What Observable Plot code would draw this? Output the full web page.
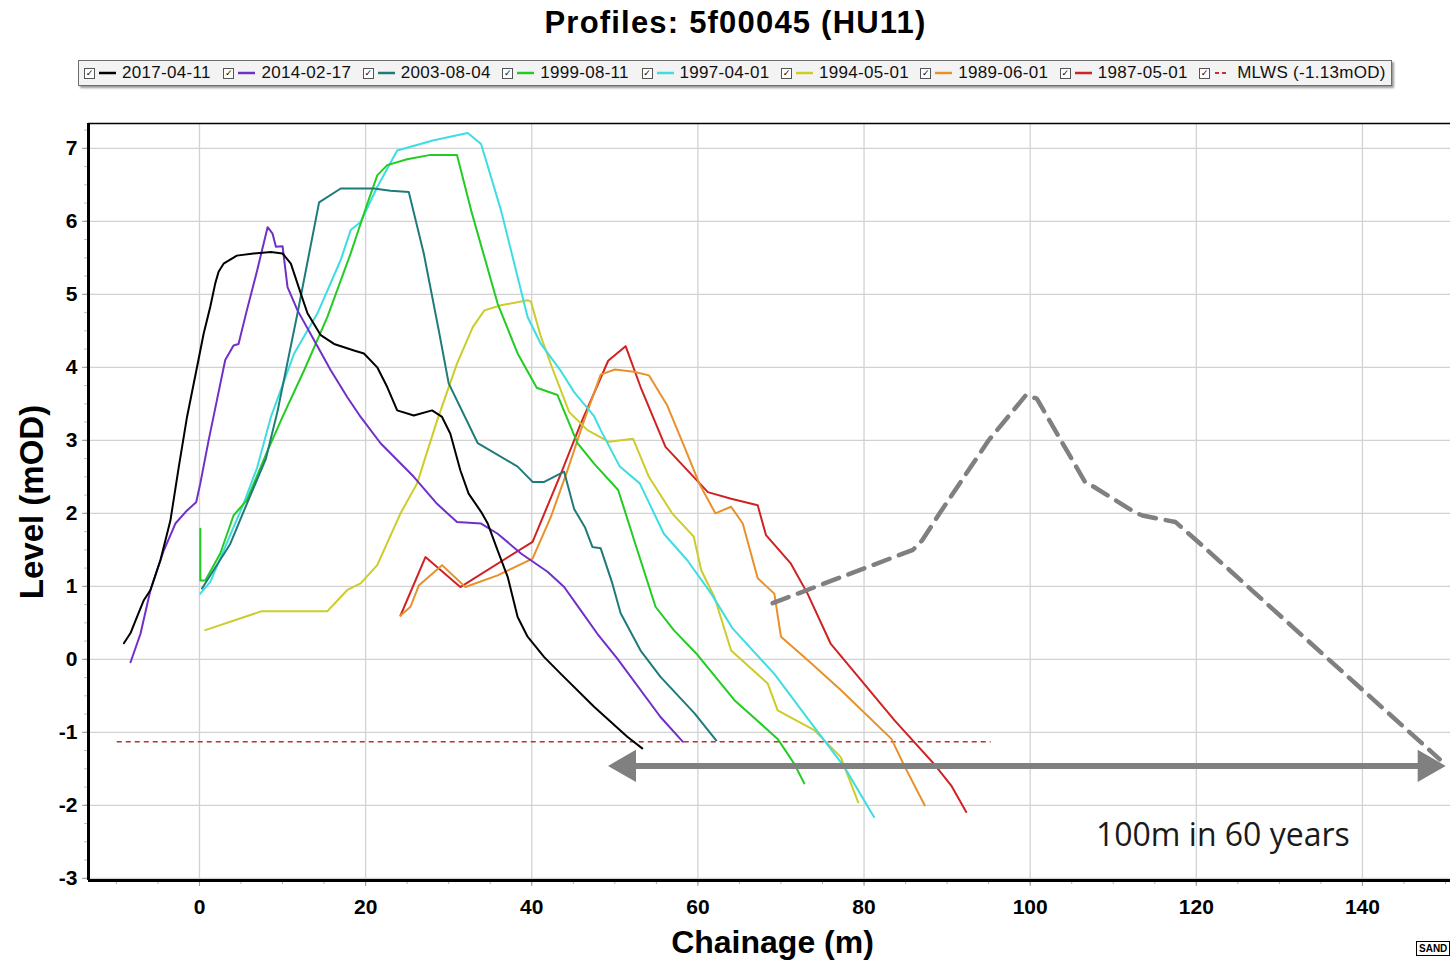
<!DOCTYPE html>
<html>
<head>
<meta charset="utf-8">
<script src="https://cdn.jsdelivr.net/npm/d3@7"></script>
<script src="https://cdn.jsdelivr.net/npm/@observablehq/plot@0.6"></script>
<style>
  html, body { margin: 0; padding: 0; background: #fff; }
  body { width: 1450px; height: 960px; overflow: hidden; position: relative; font-family: "Liberation Sans", Arial, sans-serif; color: #000; }
  #header { position: relative; width: 1450px; height: 100px; }
  #title { position: absolute; left: 0; width: 1471px; top: 7px; text-align: center; font-weight: bold; font-size: 31px; line-height: 31px; letter-spacing: 1.2px; }
  #legend { position: absolute; left: 78px; top: 60px; width: 1314px; height: 26px; box-sizing: border-box; border: 1px solid #6e6e6e; box-shadow: 2px 2px 2px #9a9a9a; background: #f3f3f3; padding-left: 5px; display: flex; align-items: center; }
  .item { display: inline-flex; align-items: center; width: 139.4px; flex: none; }
  .cb { width: 9px; height: 9px; border: 1px solid #555; background: #fff; font-size: 9px; line-height: 9px; text-align: center; font-family: "DejaVu Sans", sans-serif; margin-right: 4px; flex: none; }
  .sw { width: 17px; height: 6px; margin-right: 6px; flex: none; display: block; }
  .lb { font-size: 17px; letter-spacing: 0.3px; white-space: nowrap; color: #111; }
  #chart svg { display: block; }
  #sand { position: absolute; left: 1416px; top: 941px; border: 1px solid #000; font: bold 10px "Liberation Sans", Arial, sans-serif; padding: 1px 2px; background: #fff; }
</style>
</head>
<body>
<div id="header">
  <div id="title">Profiles: 5f00045 (HU11)</div>
  <div id="legend"></div>
</div>
<div id="chart"></div>
<div id="sand">SAND</div>
<script>
// ---- data ----
const years = ["2017-04-11", "2014-02-17", "2003-08-04", "1999-08-11", "1997-04-01", "1994-05-01", "1989-06-01", "1987-05-01"];
const colors = ["#000000", "#7030c8", "#1f7a7a", "#22cc22", "#3ddde2", "#cccc2a", "#e8902a", "#d02222"];

const s2017 = [[-9.1,0.22],[-8.3,0.36],[-7.7,0.53],[-6.7,0.81],[-5.9,0.95],[-4.7,1.36],[-3.5,1.9],[-2.5,2.63],[-1.5,3.32],[-0.3,4.0],[0.5,4.46],[1.3,4.83],[1.9,5.15],[2.3,5.31],[2.9,5.42],[4.5,5.53],[6.5,5.56],[8.6,5.58],[10.0,5.56],[11.0,5.42],[12.2,5.01],[13.0,4.74],[14.6,4.44],[16.2,4.32],[18.6,4.23],[19.8,4.19],[21.4,4.0],[22.6,3.73],[23.8,3.41],[25.8,3.34],[28.0,3.41],[29.2,3.32],[30.2,3.09],[31.4,2.59],[32.4,2.27],[33.9,2.02],[34.7,1.86],[35.9,1.49],[37.1,1.13],[38.3,0.58],[39.5,0.31],[41.5,0.03],[43.5,-0.2],[47.5,-0.65],[51.5,-1.06],[53.3,-1.22]];
const s2014 = [[-8.3,-0.04],[-7.1,0.35],[-5.9,0.95],[-4.3,1.49],[-2.9,1.86],[-1.5,2.04],[-0.4,2.15],[0.1,2.41],[1.1,3.0],[2.1,3.55],[3.1,4.1],[4.1,4.3],[4.7,4.32],[5.7,4.78],[6.95,5.33],[8.2,5.92],[8.8,5.83],[9.2,5.65],[10.0,5.66],[10.6,5.1],[11.8,4.78],[13.8,4.37],[15.8,3.96],[17.8,3.59],[19.4,3.32],[21.8,2.96],[25.8,2.5],[28.6,2.13],[31.0,1.88],[33.9,1.86],[35.9,1.72],[38.7,1.45],[41.9,1.2],[43.9,0.99],[45.9,0.67],[47.9,0.35],[50.3,0.01],[55.5,-0.79],[58.2,-1.13]];
const s2003 = [[0.3,0.97],[3.7,1.58],[5.7,2.13],[8.0,2.75],[9.4,3.4],[11.8,4.74],[14.4,6.26],[17.0,6.45],[21.0,6.45],[23.0,6.42],[25.2,6.40],[27.0,5.56],[28.8,4.51],[30.0,3.78],[33.5,2.96],[38.3,2.64],[40.1,2.43],[41.5,2.43],[43.9,2.57],[45.1,2.06],[46.4,1.81],[47.3,1.54],[48.3,1.52],[49.7,1.04],[50.7,0.63],[53.1,0.12],[55.5,-0.24],[59.6,-0.74],[62.2,-1.11]];
const s1999 = [[0.1,1.79],[0.1,1.08],[0.7,1.08],[2.5,1.45],[4.1,1.97],[5.7,2.18],[8.2,2.86],[10.0,3.32],[12.6,3.96],[15.4,4.69],[18.2,5.56],[20.2,6.24],[21.4,6.63],[22.6,6.77],[25.0,6.85],[27.8,6.91],[31.0,6.91],[32.7,6.15],[35.9,4.87],[38.3,4.19],[40.6,3.72],[43.1,3.62],[45.5,2.96],[47.5,2.68],[50.4,2.32],[52.5,1.57],[54.9,0.72],[57.1,0.40],[59.8,0.08],[64.4,-0.56],[69.6,-1.09],[71.6,-1.43],[72.8,-1.70]];
const s1997 = [[0.1,0.9],[1.3,1.06],[5.3,2.13],[6.95,2.63],[8.6,3.32],[11.4,4.19],[14.2,4.74],[17.0,5.47],[18.2,5.88],[19.4,5.99],[21.4,6.47],[23.8,6.97],[28.2,7.11],[32.3,7.21],[33.9,7.06],[36.3,6.15],[37.9,5.42],[39.5,4.69],[41.1,4.32],[43.5,3.95],[45.1,3.66],[47.5,3.33],[48.3,3.14],[50.6,2.64],[53.0,2.41],[55.9,1.72],[58.7,1.36],[61.6,0.90],[64.2,0.42],[69.2,-0.20],[74.0,-0.93],[77.6,-1.47],[81.2,-2.16]];
const s1994 = [[0.7,0.40],[7.5,0.66],[15.4,0.66],[17.8,0.95],[19.4,1.04],[21.4,1.29],[24.2,2.0],[26.2,2.41],[28.6,3.27],[31.0,4.05],[32.9,4.55],[34.3,4.78],[36.3,4.85],[39.5,4.92],[39.9,4.9],[41.1,4.42],[42.5,3.98],[44.5,3.39],[46.7,3.14],[49.3,2.98],[52.2,3.02],[54.1,2.50],[56.9,2.0],[59.5,1.68],[60.4,1.22],[62.0,0.85],[64.0,0.12],[68.4,-0.33],[69.6,-0.70],[74.0,-0.97],[77.2,-1.34],[79.3,-1.96]];
const s1989 = [[24.2,0.60],[25.4,0.72],[26.4,1.01],[29.2,1.29],[32.0,0.99],[35.9,1.15],[40.1,1.38],[42.3,1.95],[44.3,2.59],[46.3,3.27],[48.3,3.90],[50.0,3.97],[52.3,3.94],[54.1,3.89],[56.3,3.48],[58.3,2.93],[60.2,2.4],[62.1,2.0],[64.0,2.09],[65.4,1.86],[67.2,1.11],[69.2,0.90],[70.0,0.31],[73.2,-0.01],[77.2,-0.42],[83.3,-1.09],[84.9,-1.47],[87.3,-2.0]];
const s1987 = [[24.2,0.60],[27.2,1.40],[31.4,0.99],[40.1,1.61],[43.5,2.54],[45.9,3.23],[49.2,4.09],[51.3,4.29],[53.1,3.73],[56.1,2.91],[61.2,2.29],[64.0,2.20],[67.2,2.11],[68.2,1.70],[71.2,1.31],[73.2,0.90],[76.0,0.21],[83.7,-0.84],[88.4,-1.43],[90.5,-1.73],[92.3,-2.09]];
const profiles = [s2017, s2014, s2003, s1999, s1997, s1994, s1989, s1987];

const mlwsLabel = "MLWS (-1.13mOD)";
const mlws = [{ y: -1.13, x1: -9.9, x2: 95.3 }];

// hand-drawn projected profile (grey dashed)
const future = [[69.0,0.77],[85.9,1.50],[87.0,1.63],[89.1,2.0],[95.0,3.0],[99.5,3.62],[100.8,3.57],[106.6,2.43],[107.7,2.36],[112.5,2.02],[113.5,1.97],[117.5,1.88],[120.4,1.59],[149.3,-1.37]];
const arrowSpan = [{ x1: 50.1, x2: 149.1, y: -1.46 }];
const notes = [{ x: 123.2, y: -2.42, text: "100m in 60 years" }];

const xDomain = [-13.36, 150.6];
const yDomain = [-3.03, 7.34];
const xMajor = [0, 20, 40, 60, 80, 100, 120, 140];
const yMajor = [-3, -2, -1, 0, 1, 2, 3, 4, 5, 6, 7];
const xMinor = d3.range(-10, 151, 5);
const yMinor = d3.range(-3, 7.3, 0.25);
const xLabel = ["Chainage (m)"];
const yLabel = ["Level (mOD)"];

// ---- legend (HTML) ----
const legend = document.getElementById("legend");
const legendItems = years.map((d, i) => ({ label: d, color: colors[i], dashed: false }))
  .concat([{ label: mlwsLabel, color: "#c83030", dashed: true }]);
const svgNS = "http://www.w3.org/2000/svg";
legendItems.forEach(it => {
  const item = document.createElement("span");
  item.className = "item";
  const cb = document.createElement("span"); cb.className = "cb"; cb.textContent = "✓";
  const sw = document.createElementNS(svgNS, "svg");
  sw.setAttribute("class", "sw"); sw.setAttribute("width", "17"); sw.setAttribute("height", "6");
  const ln = document.createElementNS(svgNS, "line");
  ln.setAttribute("x1", it.dashed ? "1" : "0"); ln.setAttribute("x2", it.dashed ? "15" : "17");
  ln.setAttribute("y1", "3"); ln.setAttribute("y2", "3");
  ln.setAttribute("stroke", it.color); ln.setAttribute("stroke-width", it.dashed ? "2" : "2.5");
  if (it.dashed) ln.setAttribute("stroke-dasharray", "4,3");
  sw.append(ln);
  const lb = document.createElement("span"); lb.className = "lb"; lb.textContent = it.label;
  item.append(cb, sw, lb);
  legend.append(item);
});

// ---- table ----
const rows = [];
for (let i = profiles.length - 1; i >= 0; i--) {
  for (const [x, y] of profiles[i]) rows.push({ date: years[i], x, y });
}
const futureRows = future.map(([x, y]) => ({ x, y }));
const heads = [
  { x: arrowSpan[0].x1, y: arrowSpan[0].y, rot: -90, off: 11 },
  { x: arrowSpan[0].x2, y: arrowSpan[0].y, rot: 90, off: -11 }
];
const fmt = d => String(d);

const chart = Plot.plot({
  width: 1450,
  height: 860,
  marginTop: 23,
  marginBottom: 80,
  marginLeft: 88,
  marginRight: 0,
  style: { fontFamily: "'Liberation Sans', Arial, sans-serif", background: "transparent", overflow: "visible", color: "#000" },
  x: { domain: xDomain, label: null },
  y: { domain: yDomain, label: null },
  color: { domain: years, range: colors },
  marks: [
    Plot.gridX(xMajor, { stroke: "#d2d2d2", strokeOpacity: 1, strokeWidth: 1.3 }),
    Plot.gridY(yMajor, { stroke: "#d2d2d2", strokeOpacity: 1, strokeWidth: 1.3 }),
    Plot.axisX(xMinor, { tickSize: 4, stroke: "#b0b0b0", tickFormat: () => "", label: null }),
    Plot.axisX(xMajor, { tickSize: 6, tickPadding: 13, stroke: "#9a9a9a", fill: "#000", fontSize: 21, fontWeight: "bold", tickFormat: fmt, label: null }),
    Plot.axisY(yMinor, { tickSize: 4, stroke: "#c0c0c0", tickFormat: () => "", label: null }),
    Plot.axisY(yMajor, { tickSize: 6, tickPadding: 5, stroke: "#9a9a9a", fill: "#000", fontSize: 21, fontWeight: "bold", tickFormat: fmt, label: null }),
    Plot.ruleY(mlws, { y: "y", x1: "x1", x2: "x2", stroke: "#b83232", strokeWidth: 1.6, strokeDasharray: "5,4" }),
    Plot.line(rows, { x: "x", y: "y", z: "date", stroke: "date", strokeWidth: 2 }),
    Plot.line(futureRows, { x: "x", y: "y", stroke: "#808080", strokeWidth: 4.5, strokeDasharray: "17,10" }),
    Plot.link(arrowSpan, { x1: "x1", x2: "x2", y1: "y", y2: "y", stroke: "#808080", strokeWidth: 6 }),
    Plot.dot(heads, { x: "x", y: "y", symbol: "triangle", r: 12, fill: "#808080", stroke: "none", rotate: "rot" }),
    Plot.text(notes, { x: "x", y: "y", text: "text", fontSize: 32, fontFamily: "'Open Sans', sans-serif", fill: "#1a1a1a" }),
    Plot.ruleX([xDomain[0]], { stroke: "#000", strokeWidth: 3 }),
    Plot.ruleY([yDomain[0]], { stroke: "#000", strokeWidth: 3 }),
    Plot.ruleY([yDomain[1]], { stroke: "#000", strokeWidth: 1.5 }),
    Plot.text(yLabel, { frameAnchor: "left", textAnchor: "middle", lineAnchor: "middle", rotate: -90, dx: -56, fontSize: 33, fontWeight: "bold" }),
    Plot.text(xLabel, { frameAnchor: "bottom", dy: 72, dx: 3, fontSize: 32, fontWeight: "bold" })
  ]
});
document.getElementById("chart").append(chart);

// shift arrowheads so their tips sit at the arrow ends
d3.select(chart).selectAll("g[aria-label='dot'] path").each(function(d, i) {
  const t = this.getAttribute("transform") || "";
  const shift = heads[i] ? heads[i].off : 0;
  this.setAttribute("transform", `translate(${shift},0) ` + t);
});
</script>
</body>
</html>
